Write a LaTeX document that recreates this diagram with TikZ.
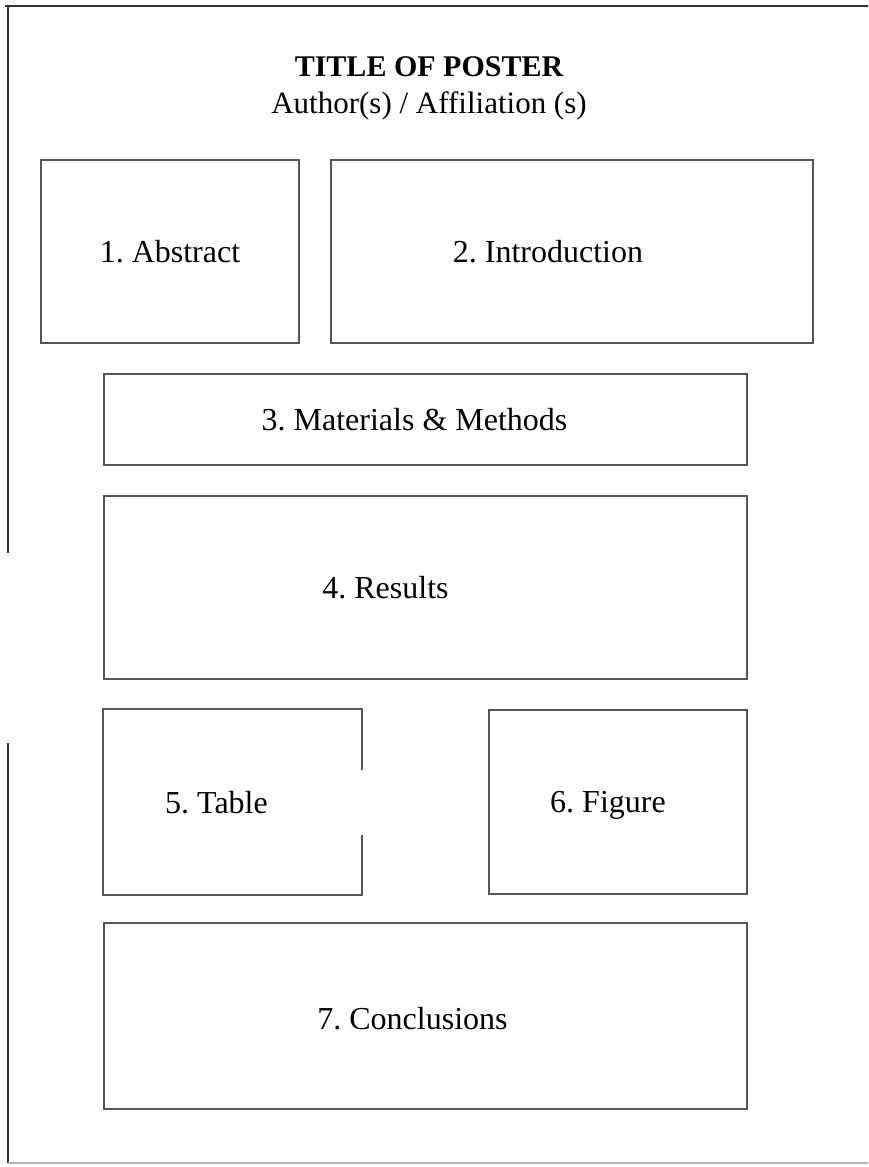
\documentclass[tikz,border=0pt]{standalone}
\usepackage{fontspec}
\setmainfont{Liberation Serif}
\usetikzlibrary{positioning}
\definecolor{boxgray}{HTML}{555555}
\definecolor{framegray}{HTML}{333333}
\frenchspacing

\begin{document}
\begin{tikzpicture}[x=1pt,y=-1pt,
        section/.style={draw=boxgray, line width=1.8pt, inner sep=0pt},
        tag/.style={font=\fontsize{32}{38}\selectfont, text depth=0pt},
        frame/.style={draw=framegray, line width=2pt}]
        \useasboundingbox (0,0) rectangle (868,1167);
        \draw[frame] (5,6) -- (868,6);
        \draw[frame] (8,6) -- (8,553);
        \draw[frame] (8,743) -- (8,1163);
        \draw[draw=gray!60, line width=1.2pt] (8,1163) -- (868,1163);
        \node[font=\fontsize{30}{36}\selectfont\bfseries] (title) at (429,67) {TITLE OF POSTER};
        \node[font=\fontsize{31}{37}\selectfont, below=8pt of title] (authors) {Author(s) / Affiliation (s)};
        \node[section, tag, minimum width=258pt, minimum height=183pt] (abstract) at (170,251.5) {1. Abstract};
        \node[section, minimum width=482pt, minimum height=183pt,
                label={[tag, xshift=-24pt]center:2. Introduction}] (intro) at (572,251.5) {};
        \node[section, minimum width=643pt, minimum height=91pt,
                label={[tag, xshift=-11pt]center:3. Materials \& Methods}] (methods) at (425.5,419.5) {};
        \node[section, minimum width=643pt, minimum height=183pt,
                label={[tag, xshift=-40pt]center:4. Results}] (results) at (425.5,587.5) {};
        \node[section, draw=none, minimum width=257pt, minimum height=184pt,
                label={[tag, xshift=-16pt]center:5. Table}] (table) at (232.5,802) {};
        \draw[draw=boxgray, line width=1.8pt] ([yshift=-61pt]table.north east) -- (table.north east) -- (table.north west)
                -- (table.south west) -- (table.south east) -- ([yshift=60pt]table.south east);
        \node[section, minimum width=258pt, minimum height=184pt,
                label={[tag, xshift=-10pt]center:6. Figure}] (figure) at (618,802) {};
        \node[section, minimum width=643pt, minimum height=186pt,
                label={[tag, xshift=-13pt, yshift=-2pt]center:7. Conclusions}] (conclusions) at (425.5,1016) {};
\end{tikzpicture}
\end{document}
